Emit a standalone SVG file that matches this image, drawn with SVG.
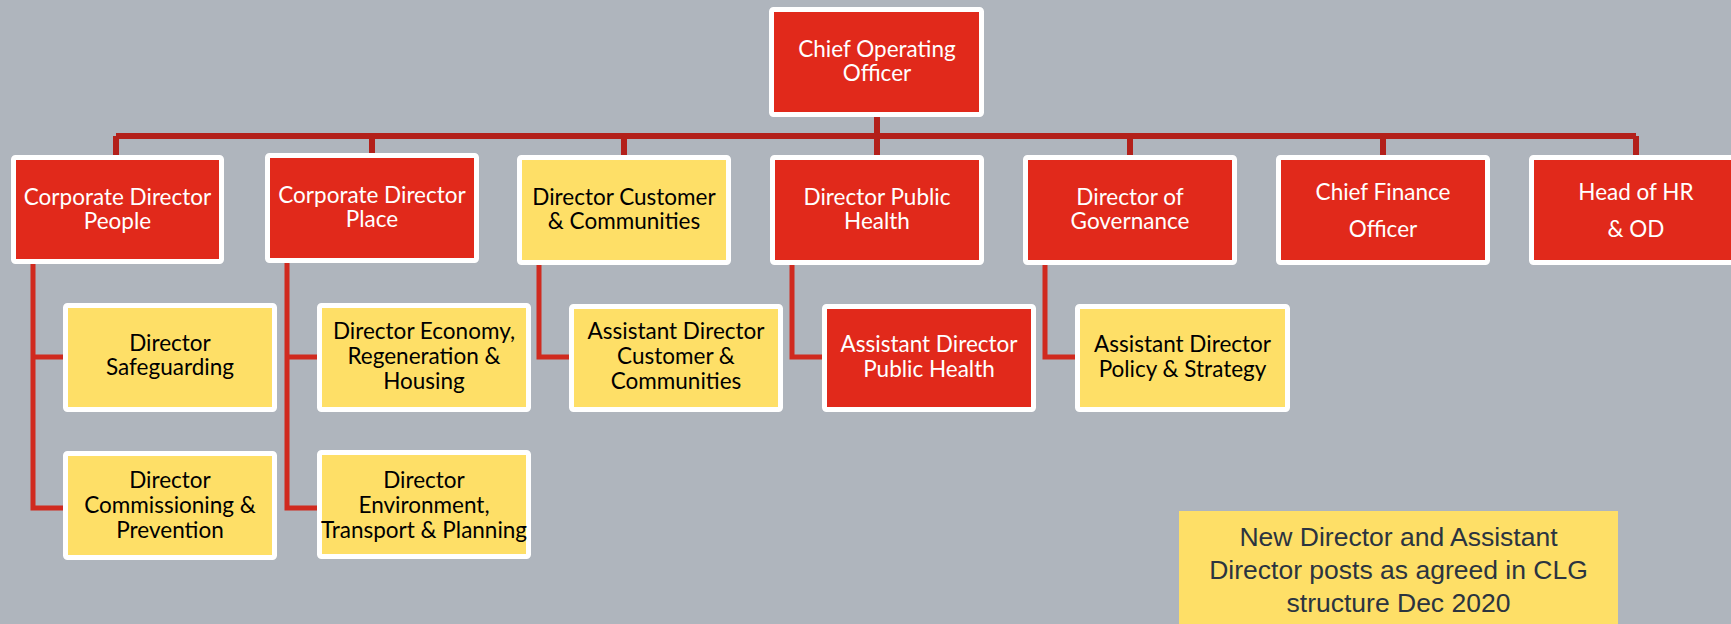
<svg xmlns="http://www.w3.org/2000/svg" width="1731" height="624" viewBox="0 0 1731 624">
<style>
.red{fill:#e1291b;stroke:#ffffff;stroke-width:5}
.yel{fill:#fedf67;stroke:#ffffff;stroke-width:5}
.t{font-family:Lato,"Noto Sans","Liberation Sans",sans-serif;font-size:22.5px;text-anchor:middle}
.w{fill:#ffffff}
.k{fill:#000000}
.bar{stroke:#b3201a;stroke-width:6;fill:none}
.sub{stroke:#d02a1f;stroke-width:5;fill:none}
.note{font-family:"Liberation Sans",Arial,sans-serif;font-size:26.5px;text-anchor:middle;fill:#2b3440}
</style>
<rect width="1731" height="624" fill="#afb5bd"/>
<g id="connectors">
<path class="bar" d="M877 117V136M116 136H1636M116 136V155M372 136V155M624 136V155M877 136V155M1130 136V155M1383 136V155M1636 136V155"/>
<path class="sub" d="M33 264V508H63M33 357H63"/>
<path class="sub" d="M287 263V508H317M287 357H317"/>
<path class="sub" d="M539 265V357H569"/>
<path class="sub" d="M792 265V357H822"/>
<path class="sub" d="M1045 265V357H1075"/>
</g>
<g id="coo">
<rect class="red" x="771.5" y="9.5" width="210" height="105" rx="2"/>
<text class="t w" x="877" y="57">Chief Operating</text>
<text class="t w" x="877" y="81">Officer</text>
</g>
<g id="cd-people">
<rect class="red" x="13.5" y="157.5" width="208" height="104" rx="2"/>
<text class="t w" x="117.5" y="205">Corporate Director</text>
<text class="t w" x="117.5" y="229">People</text>
</g>
<g id="cd-place">
<rect class="red" x="267.5" y="155.5" width="209" height="105" rx="2"/>
<text class="t w" x="372" y="203">Corporate Director</text>
<text class="t w" x="372" y="227">Place</text>
</g>
<g id="d-customer">
<rect class="yel" x="519.5" y="157.5" width="209" height="105" rx="2"/>
<text class="t k" x="624" y="205">Director Customer</text>
<text class="t k" x="624" y="229">&amp; Communities</text>
</g>
<g id="d-public-health">
<rect class="red" x="772.5" y="157.5" width="209" height="105" rx="2"/>
<text class="t w" x="877" y="205">Director Public</text>
<text class="t w" x="877" y="229">Health</text>
</g>
<g id="d-governance">
<rect class="red" x="1025.5" y="157.5" width="209" height="105" rx="2"/>
<text class="t w" x="1130" y="205">Director of</text>
<text class="t w" x="1130" y="229">Governance</text>
</g>
<g id="cfo">
<rect class="red" x="1278.5" y="157.5" width="209" height="105" rx="2"/>
<text class="t w" x="1383" y="200">Chief Finance</text>
<text class="t w" x="1383" y="237">Officer</text>
</g>
<g id="hr">
<rect class="red" x="1531.5" y="157.5" width="209" height="105" rx="2"/>
<text class="t w" x="1636" y="200">Head of HR</text>
<text class="t w" x="1636" y="237">&amp; OD</text>
</g>
<g id="d-safeguarding">
<rect class="yel" x="65.5" y="305.5" width="209" height="104" rx="2"/>
<text class="t k" x="170" y="351">Director</text>
<text class="t k" x="170" y="375">Safeguarding</text>
</g>
<g id="d-commissioning">
<rect class="yel" x="65.5" y="453.5" width="209" height="104" rx="2"/>
<text class="t k" x="170" y="488">Director</text>
<text class="t k" x="170" y="513">Commissioning &amp;</text>
<text class="t k" x="170" y="538">Prevention</text>
</g>
<g id="d-economy">
<rect class="yel" x="319.5" y="305.5" width="209" height="104" rx="2"/>
<text class="t k" x="424" y="339">Director Economy,</text>
<text class="t k" x="424" y="364">Regeneration &amp;</text>
<text class="t k" x="424" y="389">Housing</text>
</g>
<g id="d-environment">
<rect class="yel" x="319.5" y="452.5" width="209" height="104" rx="2"/>
<text class="t k" x="424" y="488">Director</text>
<text class="t k" x="424" y="513">Environment,</text>
<text class="t k" x="424" y="538">Transport &amp; Planning</text>
</g>
<g id="ad-customer">
<rect class="yel" x="571.5" y="306.5" width="209" height="103" rx="2"/>
<text class="t k" x="676" y="339">Assistant Director</text>
<text class="t k" x="676" y="364">Customer &amp;</text>
<text class="t k" x="676" y="389">Communities</text>
</g>
<g id="ad-public-health">
<rect class="red" x="824.5" y="306.5" width="209" height="103" rx="2"/>
<text class="t w" x="929" y="352">Assistant Director</text>
<text class="t w" x="929" y="377">Public Health</text>
</g>
<g id="ad-policy">
<rect class="yel" x="1077.5" y="306.5" width="210" height="103" rx="2"/>
<text class="t k" x="1182.5" y="352">Assistant Director</text>
<text class="t k" x="1182.5" y="377">Policy &amp; Strategy</text>
</g>
<g id="note">
<rect x="1179" y="511" width="439" height="120" fill="#fedf67"/>
<text class="note" x="1398.5" y="546">New Director and Assistant</text>
<text class="note" x="1398.5" y="579">Director posts as agreed in CLG</text>
<text class="note" x="1398.5" y="612">structure Dec 2020</text>
</g>
</svg>
